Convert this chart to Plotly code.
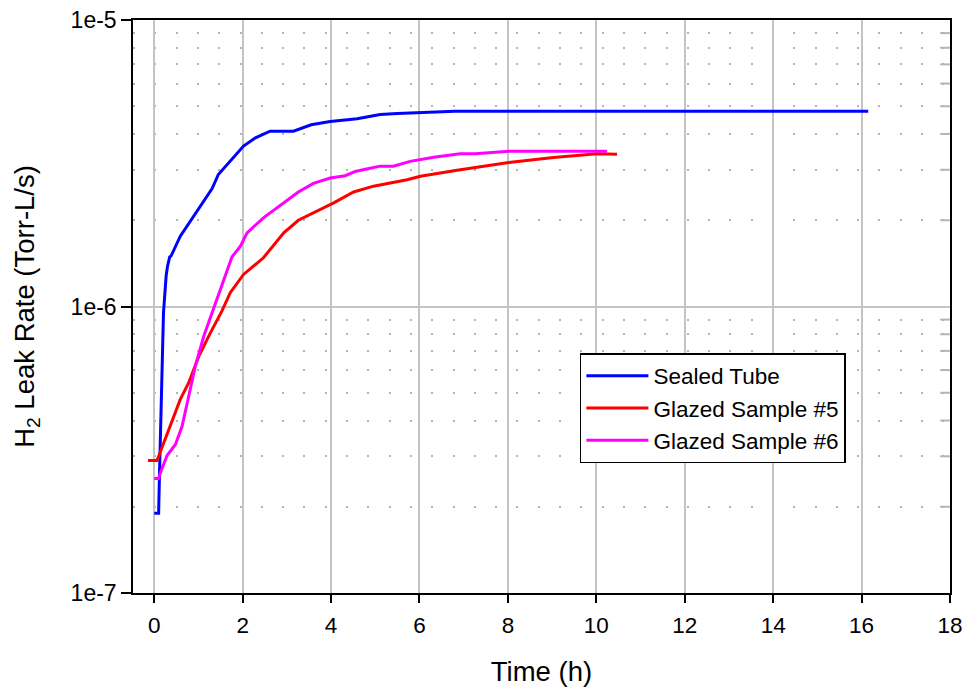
import plotly.graph_objects as go

# Elapsed time (h) and H2 leak rate (Torr-L/s) for each sample
tube_t = [0.0, 0.10, 0.12, 0.15, 0.18, 0.21, 0.27, 0.30, 0.35, 0.38, 0.59, 0.89, 1.31, 1.45,
          1.72, 2.02, 2.29, 2.62, 3.15, 3.55, 3.98, 4.59, 5.11, 5.5, 6.8, 16.15]
tube_rate = [1.9e-7, 1.9e-7, 2.64e-7, 4.04e-7, 6.19e-7, 9.53e-7, 1.28e-6, 1.38e-6, 1.49e-6,
             1.50e-6, 1.76e-6, 2.07e-6, 2.58e-6, 2.89e-6, 3.22e-6, 3.63e-6, 3.88e-6, 4.09e-6,
             4.09e-6, 4.31e-6, 4.42e-6, 4.52e-6, 4.68e-6, 4.72e-6, 4.80e-6, 4.80e-6]

s5_t = [-0.14, 0.06, 0.10, 0.36, 0.59, 0.78, 1.01, 1.27, 1.53, 1.72, 2.02, 2.47, 2.93, 3.26,
        3.68, 4.06, 4.51, 4.96, 5.72, 6.02, 6.85, 8.02, 9.03, 10.02, 10.47]
s5_rate = [2.90e-7, 2.90e-7, 3.00e-7, 3.82e-7, 4.74e-7, 5.42e-7, 6.71e-7, 8.09e-7, 9.63e-7,
           1.117e-6, 1.294e-6, 1.479e-6, 1.808e-6, 2.00e-6, 2.15e-6, 2.30e-6, 2.51e-6, 2.63e-6,
           2.77e-6, 2.85e-6, 2.99e-6, 3.18e-6, 3.31e-6, 3.41e-6, 3.40e-6]

s6_t = [0.0, 0.10, 0.14, 0.29, 0.48, 0.63, 0.78, 0.93, 1.12, 1.31, 1.53, 1.76, 1.95, 2.10,
        2.47, 2.93, 3.26, 3.60, 3.98, 4.32, 4.55, 4.80, 5.11, 5.41, 5.79, 6.32, 6.92, 7.26,
        8.02, 10.24]
s6_rate = [2.51e-7, 2.51e-7, 2.63e-7, 3.02e-7, 3.30e-7, 3.82e-7, 4.86e-7, 6.19e-7, 7.87e-7,
           9.50e-7, 1.178e-6, 1.491e-6, 1.623e-6, 1.808e-6, 2.04e-6, 2.30e-6, 2.51e-6, 2.69e-6,
           2.81e-6, 2.86e-6, 2.96e-6, 3.02e-6, 3.09e-6, 3.09e-6, 3.21e-6, 3.32e-6, 3.41e-6,
           3.41e-6, 3.48e-6, 3.48e-6]

series_names = ["Sealed Tube", "Glazed Sample #5", "Glazed Sample #6"]
series_colors = ["#0000ff", "#ff0000", "#ff00ff"]

y_major = [1e-7, 1e-6, 1e-5]
y_major_text = ["1e-7", "1e-6", "1e-5"]
y_minor = [m * d for d in (1e-7, 1e-6) for m in range(2, 10)]

FONT = "Liberation Sans, Arial, sans-serif"

fig = go.Figure()
for name, color, t, r in zip(series_names, series_colors,
                             [tube_t, s5_t, s6_t], [tube_rate, s5_rate, s6_rate]):
    fig.add_trace(go.Scatter(x=t, y=r, mode="lines", name=name,
                             line=dict(color=color, width=3)))

# short gray minor tick marks along the inside of the right frame
for v in y_minor:
    fig.add_shape(type="line", xref="paper", yref="y", x0=0.988, x1=1.0, y0=v, y1=v,
                  line=dict(color="#b4b4b4", width=2), layer="below")

fig.update_layout(
    width=966, height=687,
    margin=dict(l=133, r=16, t=20, b=94),
    paper_bgcolor="white", plot_bgcolor="white",
    font=dict(family=FONT, color="black", size=22.5),
    showlegend=True,
    legend=dict(
        x=0.547, y=0.4188, xanchor="left", yanchor="top",
        bgcolor="white", bordercolor="black", borderwidth=1.5,
        font=dict(size=22.5, family=FONT),
        itemwidth=62, entrywidth=276, entrywidthmode="pixels",
        tracegroupgap=0,
    ),
    xaxis=dict(
        range=[-0.48, 18], tick0=0, dtick=2,
        ticks="outside", ticklen=8, tickwidth=1.5, tickcolor="black",
        showgrid=True, gridcolor="#c4c4c4", gridwidth=1.5,
        showline=True, linecolor="black", linewidth=1.5, mirror=True,
        zeroline=False, automargin=False,
        tickfont=dict(size=22.5), ticklabelstandoff=3,
        title=dict(text="Time (h)", font=dict(size=27.5), standoff=26),
    ),
    yaxis=dict(
        type="log", range=[-7, -5],
        tickvals=y_major, ticktext=y_major_text,
        ticks="outside", ticklen=10, tickwidth=1.5, tickcolor="black",
        showgrid=True, gridcolor="#c4c4c4", gridwidth=1.5,
        showline=True, linecolor="black", linewidth=1.5, mirror=True,
        zeroline=False, automargin=False,
        tickfont=dict(size=23),
        minor=dict(tickvals=y_minor, showgrid=True, gridcolor="#b4b4b4",
                   gridwidth=2, griddash="2px,19.3px", ticks=""),
        title=dict(text="H<sub>2</sub> Leak Rate (Torr-L/s)", font=dict(size=27.5), standoff=28),
    ),
)

fig.write_html("out.html")
